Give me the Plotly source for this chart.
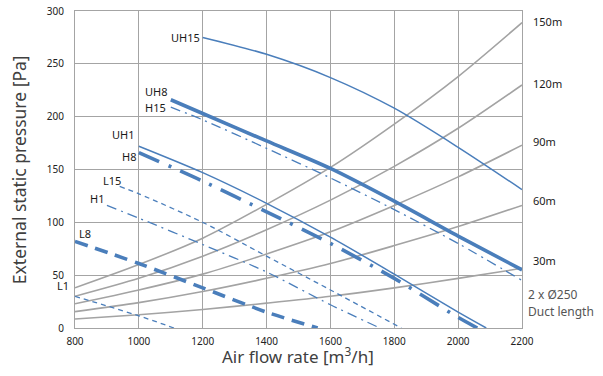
import plotly.graph_objects as go

# ---- data ----
x_ticks = [800, 1000, 1200, 1400, 1600, 1800, 2000, 2200]
y_ticks = [0, 50, 100, 150, 200, 250, 300]

# duct system curves (gray), read at each x tick
duct_x = [800, 1000, 1200, 1400, 1600, 1800, 2000, 2200]
duct_150m = [38, 60, 85, 117, 152, 193, 238, 289]
duct_120m = [30, 47, 68, 93, 121, 153, 189, 230]
duct_90m = [23, 36, 51, 70, 91, 116, 143, 173]
duct_60m = [15.5, 24, 34.5, 47, 61, 78, 96, 116]
duct_30m = [8.5, 12.5, 17.5, 23.5, 30, 38, 47, 56.5]
duct_labels = ["150m", "120m", "90m", "60m", "30m"]

# fan curves (blue)
uh15_x = [1200, 1400, 1600, 1800, 2000, 2200]
uh15_y = [275, 259, 237, 208, 171, 131]
uh8_x = [1100, 1200, 1400, 1600, 1800, 2000, 2200]
uh8_y = [216, 203, 177, 151, 120, 87, 55]
h15_x = [1100, 1200, 1400, 1600, 1800, 2000, 2200]
h15_y = [209, 197, 170, 142, 112, 80, 45]
uh1_x = [1000, 1200, 1400, 1600, 1800, 2000, 2088]
uh1_y = [172, 147, 118, 86, 51, 15, 0]
h8_x = [1000, 1200, 1400, 1600, 1800, 2000, 2060]
h8_y = [166, 139, 110, 80, 47, 10, 0]
l15_x = [940, 1000, 1200, 1400, 1600, 1822]
l15_y = [134, 127, 100, 68, 36, 0]
h1_x = [900, 1000, 1200, 1400, 1600, 1755]
h1_y = [116, 104, 79, 53, 22, 0]
l8_x = [800, 1000, 1200, 1400, 1560]
l8_y = [82, 61, 38, 15, 0]
l1_x = [800, 1000, 1110]
l1_y = [30, 11.5, 0]

BLUE = "#4a7ebb"
GRAY = "#a3a3a3"
GRID = "#a4a4a4"
FONT = "Noto Sans"

fig = go.Figure()

for ys in [duct_150m, duct_120m, duct_90m, duct_60m, duct_30m]:
    fig.add_trace(go.Scatter(x=duct_x, y=ys, mode="lines",
                             line=dict(color=GRAY, width=1.6, shape="spline", smoothing=0.8),
                             hoverinfo="skip", showlegend=False))

fans = [
    ("UH15", uh15_x, uh15_y, 1.5, "solid"),
    ("UH8", uh8_x, uh8_y, 3.6, "solid"),
    ("H15", h15_x, h15_y, 1.3, "10px,5px,2px,5px"),
    ("UH1", uh1_x, uh1_y, 1.5, "solid"),
    ("H8", h8_x, h8_y, 3.6, "22px,10px,3px,10px"),
    ("L15", l15_x, l15_y, 1.3, "5px,4px"),
    ("H1", h1_x, h1_y, 1.3, "10px,5px,2px,5px"),
    ("L8", l8_x, l8_y, 3.6, "13px,8px"),
    ("L1", l1_x, l1_y, 1.3, "5px,4px"),
]
for name, xs, ys, w, d in fans:
    fig.add_trace(go.Scatter(x=xs, y=ys, mode="lines", name=name,
                             line=dict(color=BLUE, width=w, dash=d, shape="spline", smoothing=0.8),
                             showlegend=False))

# curve labels: (text, x, y, xanchor, xshift, yshift)
lab = [
    ("UH15", uh15_x[0], uh15_y[0], "right", -1, 0),
    ("UH8", uh8_x[0], uh8_y[0], "right", -2, 8),
    ("H15", h15_x[0], h15_y[0], "right", -3, 0),
    ("UH1", uh1_x[0], uh1_y[0], "right", -3, 12),
    ("H8", h8_x[0], h8_y[0], "right", -1, -4),
    ("L15", l15_x[0], l15_y[0], "right", 3, 6),
    ("H1", h1_x[0], h1_y[0], "right", -1, 7),
    ("L8", l8_x[0], l8_y[0], "left", 2, 8),
    ("L1", l1_x[0], l1_y[0], "right", -4, 11),
]
for t, x, y, xa, xs, ysh in lab:
    fig.add_annotation(x=x, y=y, text=t, showarrow=False, xanchor=xa, yanchor="middle",
                       xshift=xs, yshift=ysh, font=dict(family=FONT, size=11, color="#1a1a1a"))

right_pos = [(duct_labels[0], 21), (duct_labels[1], 83), (duct_labels[2], 141),
             (duct_labels[3], 200), (duct_labels[4], 260)]
for t, py in right_pos:
    fig.add_annotation(xref="paper", yref="paper", x=1.02, y=(328 - py) / 317, text=t, showarrow=False,
                       xanchor="left", yanchor="middle", font=dict(family=FONT, size=11, color="#1a1a1a"))
fig.add_annotation(xref="paper", yref="paper", x=1.009, y=(328 - 294) / 317, text="2 x Ø250", showarrow=False,
                   xanchor="left", yanchor="middle", font=dict(family=FONT, size=12, color="#555555"))
fig.add_annotation(xref="paper", yref="paper", x=1.009, y=(328 - 311) / 317, text="Duct length", showarrow=False,
                   xanchor="left", yanchor="middle", font=dict(family=FONT, size=12, color="#555555"))

# axis titles
fig.add_annotation(xref="paper", yref="paper", x=(298 - 75) / 448, y=(328 - 355) / 317,
                   text="Air flow rate [m<sup>3</sup>/h]", showarrow=False, xanchor="center", yanchor="middle",
                   font=dict(family=FONT, size=17, color="#404040"))
fig.add_annotation(xref="paper", yref="paper", x=(19 - 75) / 448, y=(328 - 170) / 317,
                   text="External static pressure [Pa]", showarrow=False, textangle=-90,
                   xanchor="center", yanchor="middle",
                   font=dict(family=FONT, size=17.5, color="#404040"))

fig.update_layout(
    width=603, height=376,
    margin=dict(l=75, r=81, t=11, b=48),
    paper_bgcolor="white", plot_bgcolor="white",
    font=dict(family=FONT, color="#222222"),
    showlegend=False,
)
fig.update_xaxes(range=[800, 2200], tickvals=x_ticks, ticktext=[str(v) for v in x_ticks],
                 showgrid=True, gridcolor=GRID, gridwidth=1, zeroline=False, automargin=False,
                 showline=True, linecolor=GRID, linewidth=1, mirror=True,
                 tickfont=dict(family=FONT, size=10, color="#222222"), ticklabelstandoff=4)
fig.update_yaxes(range=[0, 300], tickvals=y_ticks, ticktext=[str(v) for v in y_ticks],
                 showgrid=True, gridcolor=GRID, gridwidth=1, zeroline=False, automargin=False,
                 showline=True, linecolor=GRID, linewidth=1, mirror=True,
                 tickfont=dict(family=FONT, size=10, color="#222222"), ticklabelstandoff=8)

fig.write_html("out.html", config={"displayModeBar": False},
               post_script="document.body.style.margin='0';document.body.style.overflow='hidden';")
